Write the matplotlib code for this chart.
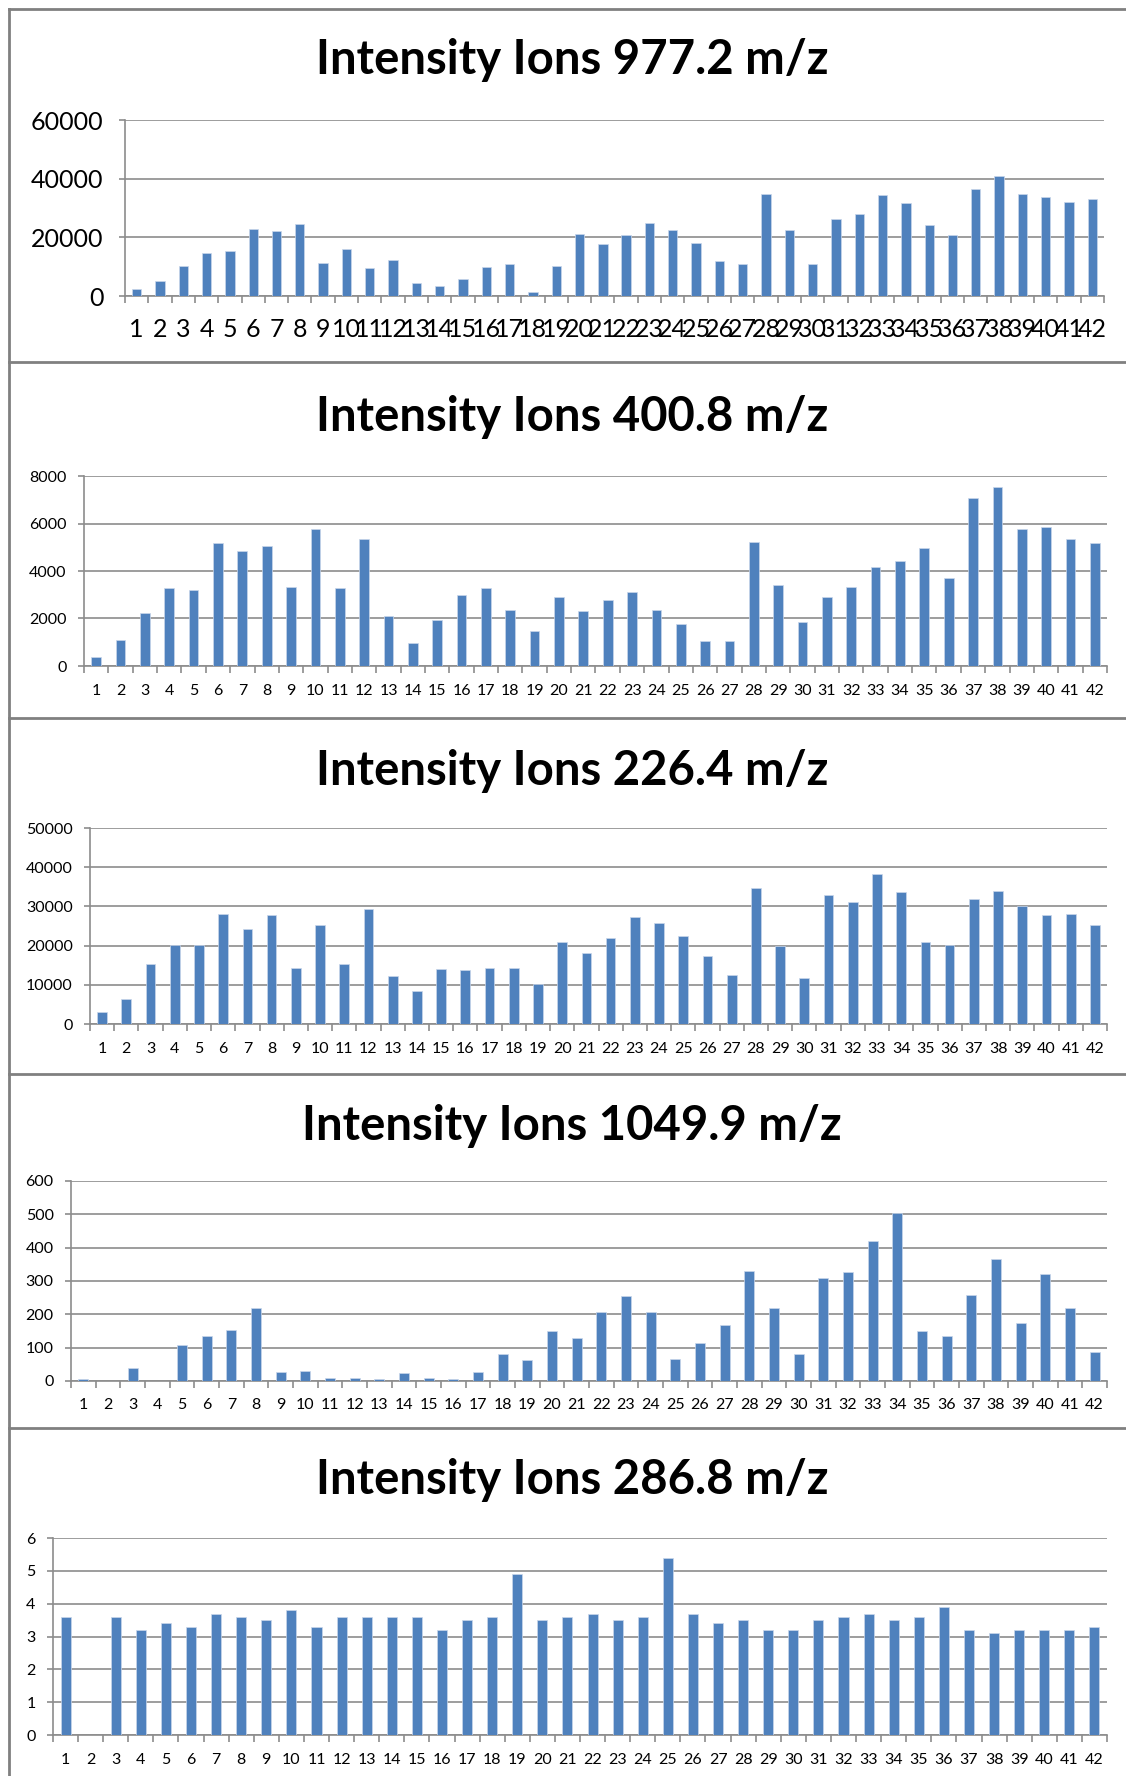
import matplotlib
matplotlib.use("Agg")
import matplotlib.pyplot as plt
from matplotlib.lines import Line2D
import numpy as np

plt.rcParams['font.family'] = ['Lato', 'DejaVu Sans']

# ---------------- data ----------------
samples = [str(i) for i in range(1, 43)]

ion_977_2 = [2400, 5000, 10250, 14700, 15500, 23000, 22100, 24700, 11200, 15900,
             9450, 12400, 4550, 3300, 5900, 9900, 10800, 1500, 10250, 21200,
             17800, 20800, 25050, 22550, 18100, 11950, 11050, 34700, 22550, 11050,
             26100, 28100, 34300, 31650, 24250, 20850, 36550, 40900, 34700, 33800,
             32200, 33000]

ion_400_8 = [390, 1100, 2240, 3280, 3220, 5170, 4860, 5070, 3320, 5780,
             3280, 5340, 2090, 950, 1920, 3010, 3280, 2350, 1480, 2900,
             2300, 2790, 3120, 2350, 1760, 1050, 1050, 5240, 3390, 1860,
             2900, 3330, 4150, 4430, 4960, 3710, 7090, 7520, 5780, 5840,
             5340, 5180]

ion_226_4 = [2980, 6460, 15300, 20070, 20050, 28060, 24230, 27800, 14370, 25250,
             15300, 29340, 12160, 8420, 14120, 13780, 14370, 14370, 10290, 21000,
             18200, 22020, 27380, 25850, 22360, 17260, 12500, 34700, 19810, 11820,
             32820, 31210, 38180, 33760, 21000, 20070, 31800, 34010, 30100, 27720,
             28060, 25170]

ion_1049_9 = [5, 0, 38, 0, 107, 136, 154, 219, 27, 31,
              9, 9, 5, 23, 9, 5, 27, 81, 63, 150,
              128, 208, 255, 208, 67, 113, 168, 330, 218, 81,
              308, 327, 420, 504, 150, 135, 259, 366, 175, 320,
              218, 88]

ion_286_8 = [3.6, 0, 3.6, 3.2, 3.4, 3.3, 3.7, 3.6, 3.5, 3.8,
             3.3, 3.6, 3.6, 3.6, 3.6, 3.2, 3.5, 3.6, 4.9, 3.5,
             3.6, 3.7, 3.5, 3.6, 5.4, 3.7, 3.4, 3.5, 3.2, 3.2,
             3.5, 3.6, 3.7, 3.5, 3.6, 3.9, 3.2, 3.1, 3.2, 3.2,
             3.2, 3.3]

titles = ["Intensity Ions 977.2 m/z", "Intensity Ions 400.8 m/z",
          "Intensity Ions 226.4 m/z", "Intensity Ions 1049.9 m/z",
          "Intensity Ions 286.8 m/z"]
series = [ion_977_2, ion_400_8, ion_226_4, ion_1049_9, ion_286_8]
y_max = [60000, 8000, 50000, 600, 6]
y_step = [20000, 2000, 10000, 100, 1]

# ---------------- layout (pixels) ----------------
W, H = 1126, 1776
# left, right, top, zero-line, title centre y, tick font, xpad, ypad
layout = [
    (125, 1104, 120, 296, 60, 18, 16, 11),
    (84, 1107, 476, 666, 417, 11.5, 13, 8),
    (90, 1107, 828, 1024, 771, 11.5, 13, 8),
    (71, 1107, 1181, 1381, 1126, 11.5, 12, 8),
    (53, 1107, 1538, 1735, 1480, 11.5, 13, 8),
]
panel_edges = [9, 362, 718, 1074, 1428]

BLUE = '#4F81BD'
GRID = '#8c8c8c'

fig = plt.figure(figsize=(W / 100, H / 100), dpi=100)
fig.patch.set_facecolor('white')

for vals, title, ym, ys, lay in zip(series, titles, y_max, y_step, layout):
    L, R, T, B, ty, fs, xpad, ypad = lay
    ax = fig.add_axes([L / W, 1 - B / H, (R - L) / W, (B - T) / H])
    x = np.arange(len(samples))
    ax.bar(x, vals, width=0.4, color=BLUE, edgecolor='#c9d6ea', linewidth=0.5, zorder=3)
    ax.set_xlim(-0.5, len(samples) - 0.5)
    ax.set_ylim(0, ym)
    ax.set_yticks(np.arange(0, ym + ys / 2, ys))
    ax.set_yticklabels([f"{int(v)}" for v in np.arange(0, ym + ys / 2, ys)])
    ax.yaxis.grid(True, color=GRID, linewidth=1.2, zorder=0)
    ax.set_axisbelow(True)
    for s in ('top', 'right'):
        ax.spines[s].set_visible(False)
    for s in ('left', 'bottom'):
        ax.spines[s].set_color(GRID)
        ax.spines[s].set_linewidth(1.2)
    ax.set_xticks(x)
    ax.set_xticklabels(samples)
    ax.set_xticks(np.arange(-0.5, len(samples), 1.0), minor=True)
    ax.tick_params(axis='x', which='major', length=0, pad=xpad, labelsize=fs, labelcolor='black')
    ax.tick_params(axis='x', which='minor', length=5, width=1.2, color=GRID, direction='out')
    ax.tick_params(axis='y', which='major', length=4.5, width=1.2, color=GRID, pad=ypad,
                   labelsize=fs, labelcolor='black')
    fig.text(572 / W, 1 - ty / H, title, ha='center', va='center',
             fontsize=34, fontweight='bold', color='black')

# chart borders
for y in panel_edges:
    fig.add_artist(Line2D([9 / W, 1.0], [1 - y / H, 1 - y / H], transform=fig.transFigure,
                          color='#808080', linewidth=2))
fig.add_artist(Line2D([9 / W, 9 / W], [1 - 9 / H, 0], transform=fig.transFigure,
                      color='#808080', linewidth=2))

fig.savefig('out.png', dpi=100, facecolor='white')
